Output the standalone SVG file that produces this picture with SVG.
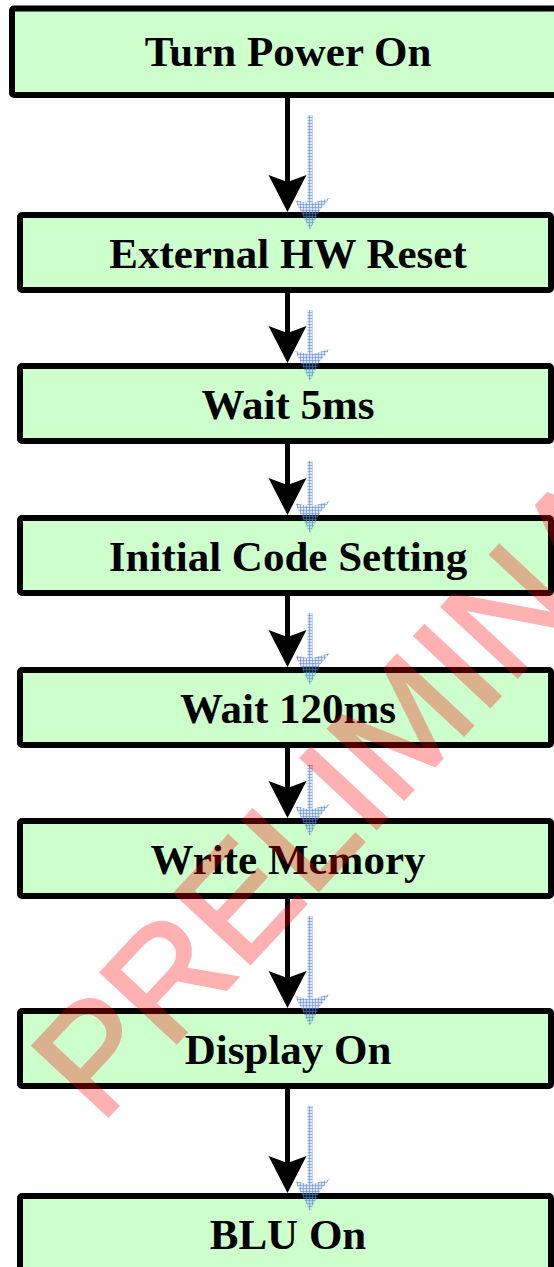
<svg xmlns="http://www.w3.org/2000/svg" width="554" height="1267" viewBox="0 0 554 1267">
<style>
.box{fill:#CCFFCC;stroke:#000;stroke-width:6;stroke-linejoin:round}
.lbl{font-family:"Liberation Serif","Times New Roman",serif;font-weight:bold;font-size:43px;text-anchor:middle;fill:#000}
.shaft{stroke:#000;stroke-width:5}
.head{fill:#000}
.ghost{fill:url(#grid)}
.wm{font-family:"Liberation Sans",Arial,sans-serif;font-size:150px;fill:#FF0000;stroke:#FF0000;stroke-width:3}
</style>
<defs>
<pattern id="grid" width="3" height="3" patternUnits="userSpaceOnUse">
<rect width="3" height="3" fill="#5a8ad8" fill-opacity="0.22"/>
<path d="M0 0.5H3M0.5 0V3" stroke="#4f7fd0" stroke-opacity="0.5" stroke-width="1"/>
</pattern>
</defs>
<g id="n1"><rect class="box" x="12" y="8.5" width="600" height="86.5" rx="2"/><text class="lbl" x="288" y="66">Turn Power On</text></g>
<g id="n2"><rect class="box" x="20" y="215" width="531" height="75" rx="2"/><text class="lbl" x="288" y="267.5">External HW Reset</text></g>
<g id="n3"><rect class="box" x="20" y="366" width="531" height="75" rx="2"/><text class="lbl" x="288" y="418.5">Wait 5ms</text></g>
<g id="n4"><rect class="box" x="20" y="518" width="531" height="75" rx="2"/><text class="lbl" x="288" y="570.5">Initial Code Setting</text></g>
<g id="n5"><rect class="box" x="20" y="670" width="531" height="75" rx="2"/><text class="lbl" x="288" y="722.5">Wait 120ms</text></g>
<g id="n6"><rect class="box" x="20" y="821" width="531" height="75" rx="2"/><text class="lbl" x="288" y="873.5">Write Memory</text></g>
<g id="n7"><rect class="box" x="20" y="1011" width="531" height="75" rx="2"/><text class="lbl" x="288" y="1063.5">Display On</text></g>
<g id="n8"><rect class="box" x="20" y="1196" width="531" height="75" rx="2"/><text class="lbl" x="288" y="1249">BLU On</text></g>
<g id="connectors">
<line class="shaft" x1="287.5" y1="98" x2="287.5" y2="182"/><polygon class="head" points="268.5,175 287.5,182 306.5,175 287.5,212"/>
<line class="shaft" x1="287.5" y1="293" x2="287.5" y2="333"/><polygon class="head" points="268.5,326 287.5,333 306.5,326 287.5,363"/>
<line class="shaft" x1="287.5" y1="444" x2="287.5" y2="485"/><polygon class="head" points="268.5,478 287.5,485 306.5,478 287.5,515"/>
<line class="shaft" x1="287.5" y1="596" x2="287.5" y2="637"/><polygon class="head" points="268.5,630 287.5,637 306.5,630 287.5,667"/>
<line class="shaft" x1="287.5" y1="748" x2="287.5" y2="788"/><polygon class="head" points="268.5,781 287.5,788 306.5,781 287.5,818"/>
<line class="shaft" x1="287.5" y1="899" x2="287.5" y2="978"/><polygon class="head" points="268.5,971 287.5,978 306.5,971 287.5,1008"/>
<line class="shaft" x1="287.5" y1="1089" x2="287.5" y2="1163"/><polygon class="head" points="268.5,1156 287.5,1163 306.5,1156 287.5,1193"/>
<path class="ghost" d="M307.5,115 H312.5 V203 L330,198 L320,210 L310,230 L300,210 L295,200 L307.5,203 Z"/>
<path class="ghost" d="M307.5,310 H312.5 V354 L330,349 L320,361 L310,381 L300,361 L295,351 L307.5,354 Z"/>
<path class="ghost" d="M307.5,461 H312.5 V506 L330,501 L320,513 L310,533 L300,513 L295,503 L307.5,506 Z"/>
<path class="ghost" d="M307.5,613 H312.5 V658 L330,653 L320,665 L310,685 L300,665 L295,655 L307.5,658 Z"/>
<path class="ghost" d="M307.5,765 H312.5 V809 L330,804 L320,816 L310,836 L300,816 L295,806 L307.5,809 Z"/>
<path class="ghost" d="M307.5,916 H312.5 V999 L330,994 L320,1006 L310,1026 L300,1006 L295,996 L307.5,999 Z"/>
<path class="ghost" d="M307.5,1106 H312.5 V1184 L330,1179 L320,1191 L310,1211 L300,1191 L295,1181 L307.5,1184 Z"/>
</g>
<g id="watermark" opacity="0.3"><text class="wm" x="0" y="0" transform="translate(100,1125) rotate(-47)">PRELIMINARY</text></g>
</svg>
